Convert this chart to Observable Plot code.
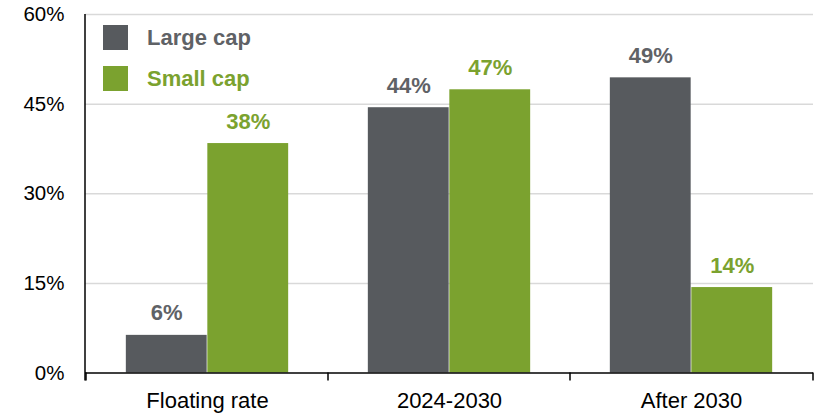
<!DOCTYPE html>
<html><head><meta charset="utf-8">
<script src="https://cdn.jsdelivr.net/npm/d3@7"></script>
<script src="https://cdn.jsdelivr.net/npm/@observablehq/plot@0.6"></script>
<style>body{margin:0;background:#fff}</style>
</head><body><div id="chart"></div>
<script>
const categories = ["Floating rate", "2024-2030", "After 2030"];
const series = ["Large cap", "Small cap"];
const largeCap = [6.3, 44.4, 49.4];
const smallCap = [38.4, 47.4, 14.3];
const yTicks = [0, 15, 30, 45, 60];
const colors = ["#575a5e", "#7ba22f"];
const labelColors = ["#5f6266", "#7ba22f"];

const W = 834, H = 414, ML = 85, MR = 21, MT = 14, MB = 41.5;
const band = (W - ML - MR) / categories.length;
const barW = 81.5;

const rows = categories.flatMap((c, i) => [
  {cat: c, series: series[0], value: largeCap[i]},
  {cat: c, series: series[1], value: smallCap[i]}
]);
const large = rows.filter(d => d.series === series[0]);
const small = rows.filter(d => d.series === series[1]);

function decorations(index, scales, values, dims) {
  const g = d3.create("svg:g");
  const y0 = scales.y(0), yTop = scales.y(60);
  const edges = categories.map(c => scales.x(c));
  edges.push(dims.width - dims.marginRight);
  g.append("line").attr("x1", dims.marginLeft).attr("x2", dims.marginLeft)
    .attr("y1", yTop).attr("y2", y0 + 8).attr("stroke", "#000").attr("stroke-width", 1.5);
  for (const x of edges) {
    g.append("line").attr("x1", x).attr("x2", x).attr("y1", y0).attr("y2", y0 + 8)
      .attr("stroke", "#000").attr("stroke-width", 1.5);
  }
  series.forEach((s, i) => {
    const yy = 25 + i * 41;
    g.append("rect").attr("x", 103).attr("y", yy).attr("width", 25).attr("height", 25).attr("fill", colors[i]);
    g.append("text").attr("x", 147).attr("y", yy + 12.5).attr("dy", "0.35em")
      .attr("text-anchor", "start")
      .attr("fill", labelColors[i]).attr("font-weight", "bold").attr("font-size", 22).text(s);
  });
  return g.node();
}

const chart = Plot.plot({
  width: W, height: H,
  marginLeft: ML, marginRight: MR, marginTop: MT, marginBottom: MB,
  style: {fontFamily: "'Liberation Sans', Arial, sans-serif", fontSize: "20px", background: "#fff"},
  x: {domain: categories, padding: 0, axis: null},
  y: {domain: [0, 60], axis: null},
  color: {domain: series, range: colors},
  marks: [
    Plot.ruleY(yTicks.filter(d => d > 0), {stroke: "#d9d9d9", strokeWidth: 1.5}),
    Plot.barY(large, {x: "cat", y: "value", fill: "series", insetLeft: band / 2 - barW, insetRight: band / 2}),
    Plot.barY(small, {x: "cat", y: "value", fill: "series", insetLeft: band / 2, insetRight: band / 2 - barW}),
    Plot.text(large, {x: "cat", y: "value", text: d => Math.round(d.value) + "%", dx: -barW / 2, dy: -22,
      fill: labelColors[0], fontWeight: "bold", fontSize: 22}),
    Plot.text(small, {x: "cat", y: "value", text: d => Math.round(d.value) + "%", dx: barW / 2, dy: -22,
      fill: labelColors[1], fontWeight: "bold", fontSize: 22}),
    Plot.ruleY([0], {stroke: "#000", strokeWidth: 1.5}),
    Plot.axisY({ticks: yTicks, tickFormat: d => d + "%", tickSize: 0, tickPadding: 21, fontSize: 20.5, label: null, fill: "#000"}),
    Plot.axisX({tickSize: 0, tickPadding: 19, fontSize: 22, label: null, fill: "#000"}),
    decorations
  ]
});
document.getElementById("chart").append(chart);
</script>
</body></html>
